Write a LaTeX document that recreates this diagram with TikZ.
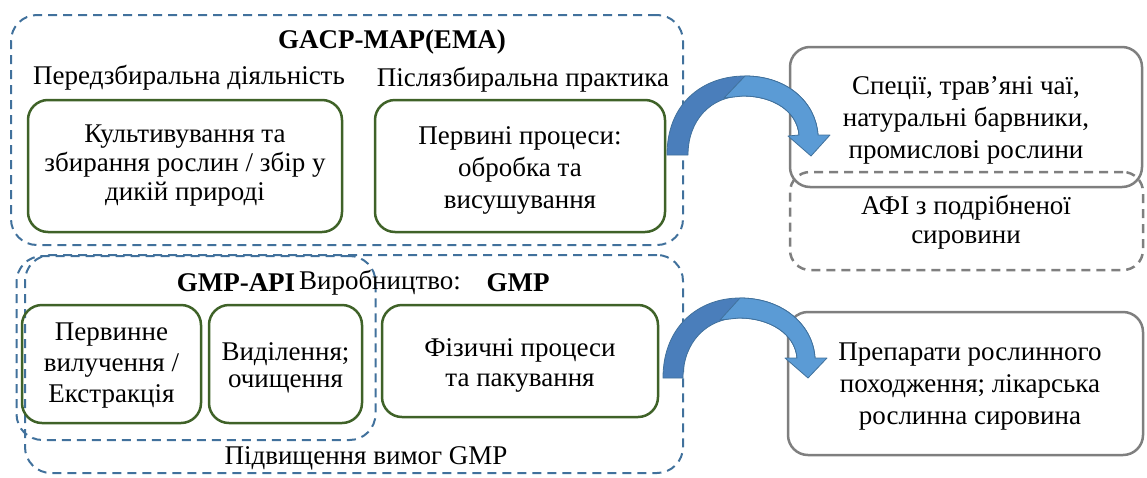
\documentclass[tikz,border=0pt]{standalone}
\usepackage{fontspec}
\setmainfont{Liberation Serif}
\definecolor{dblue}{HTML}{41719C}
\definecolor{mblue}{HTML}{4A7EBB}
\definecolor{lblue}{HTML}{5B9BD5}
\definecolor{gbox}{HTML}{3F6228}
\definecolor{gline}{HTML}{7F7F7F}
\tikzset{
  x=1pt,y=-1pt,
  cont/.style={draw=dblue,line width=2pt,dash pattern=on 9pt off 6pt,rounded corners=26pt,minimum width=#1},
  gbx/.style={draw=gbox,line width=2.5pt,rounded corners=20pt,align=center},
  grb/.style={draw=gline,line width=2.5pt,rounded corners=20pt,align=center},
  grd/.style={draw=gline,line width=2.5pt,dash pattern=on 9pt off 6pt,rounded corners=20pt,align=center},
  txt/.style={inner sep=0pt,align=center},
  arrback/.style={draw=dblue,line width=0.8pt,fill=mblue,line join=round},
  arrfront/.style={draw=dblue,line width=0.8pt,fill=lblue,line join=round}
}
\newcommand{\fs}[1]{\fontsize{27}{#1}\selectfont}
\begin{document}
\begin{tikzpicture}
\useasboundingbox (0,0) rectangle (1147,477);
% containers
\node[cont=672pt,minimum height=230pt] (gacp) at (347,130) {};
\node[cont=658pt,minimum height=218pt] (gmpc) at (354,364) {};
\node[cont=359pt,minimum height=184pt] (api) at (196,348) {};
% headings
\node[txt,font=\fs{28}\bfseries] (t1) at (392,42) {GACP-MAP(EMA)};
\node[txt,font=\fs{28}] (pre) at (189,78) {Передзбиральна діяльність};
\node[txt,font=\fs{28}] (post) at (523,80) {Післязбиральна практика};
% top boxes
\node[gbx,minimum width=314pt,minimum height=132pt] (b1) at (185,166) {};
\node[txt,font=\fs{29}] (b1t) at (b1.center) {Культивування та\\збирання рослин / збір у\\дикій природі};
\node[gbx,minimum width=290pt,minimum height=132pt] (b2) at (520,166) {};
\node[txt,font=\fs{32}] (b2t) at (520,170) {Первині процеси:\\обробка та\\висушування};
% bottom headings
\node[txt,font=\fs{28}\bfseries] (tapi) at (236,283) {GMP-API};
\node[txt,font=\fs{28}] (vyr) at (380,283) {Виробництво:};
\node[txt,font=\fs{28}\bfseries] (tgmp) at (518,283) {GMP};
\node[txt,font=\fs{28}] (pidv) at (366,458) {Підвищення вимог GMP};
% bottom boxes
\node[gbx,minimum width=179pt,minimum height=118pt] (c1) at (111.5,364) {};
\node[txt,font=\fs{31}] (c1t) at (111.5,366) {Первинне\\вилучення /\\Екстракція};
\node[gbx,minimum width=153pt,minimum height=118pt] (c2) at (285.5,364) {};
\node[txt,font=\fs{27}] (c2t) at (285.5,368) {Виділення;\\очищення};
\node[gbx,minimum width=276pt,minimum height=112pt] (c3) at (520,361) {};
\node[txt,font=\fs{30}] (c3t) at (520,365) {Фізичні процеси\\та пакування};
% right boxes
\node[grd,minimum width=353pt,minimum height=98pt] (afi) at (966.5,221) {};
\node[grb,minimum width=352pt,minimum height=140pt] (spec) at (966,117) {};
\node[txt,font=\fs{32}] (spect) at (966,120) {Спеції, трав’яні чаї,\\натуральні барвники,\\промислові рослини};
\node[txt,font=\fs{29}] (afit) at (966,222) {АФІ з подрібненої\\сировини};
\node[grb,minimum width=355pt,minimum height=143pt] (prep) at (965.5,383.5) {};
\node[txt,font=\fs{32}] (prept) at (970,387) {Препарати рослинного\\походження; лікарська\\рослинна сировина};
% curved arrows
\coordinate (a1) at (667,155);
\filldraw[arrback] (a1) .. controls (667,104) and (702,76) .. (745,76)
  .. controls (788,76) and (816,103) .. (818,135) -- (799,135)
  .. controls (797,111) and (773,96) .. (743,96) .. controls (711,96) and (688,120) .. (688,155) -- cycle;
\filldraw[arrfront] (745,76) .. controls (788,76) and (816,103) .. (818,135) -- (830,135) -- (811,156) -- (788,136) -- (799,135)
  .. controls (797,111) and (773,96) .. (743,96) -- (724,98) -- cycle;
\coordinate (a2) at (663,378);
\filldraw[arrback] (a2) .. controls (663,327) and (698,298) .. (740,298)
  .. controls (783,298) and (813,325) .. (815,358) -- (797,358)
  .. controls (795,334) and (770,318) .. (739,318) .. controls (707,318) and (683,342) .. (683,378) -- cycle;
\filldraw[arrfront] (740,298) .. controls (783,298) and (813,325) .. (815,358) -- (827,358) -- (808,378) -- (785,358) -- (797,358)
  .. controls (795,334) and (770,318) .. (739,318) -- (720,320) -- cycle;
\end{tikzpicture}
\end{document}
